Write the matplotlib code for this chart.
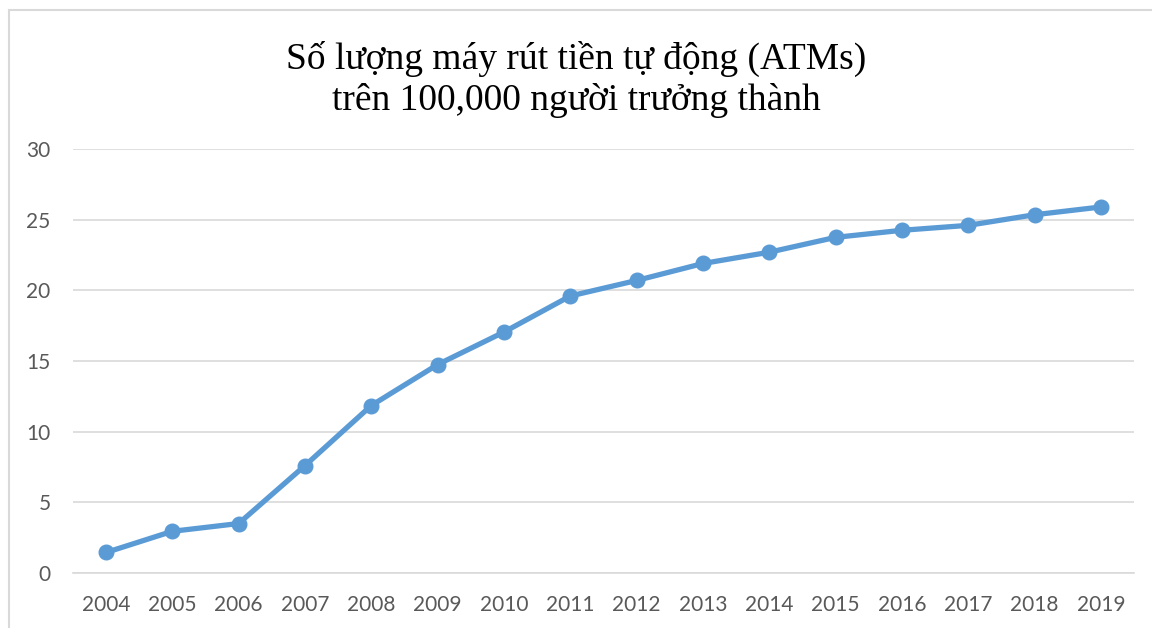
import matplotlib.pyplot as plt
from matplotlib.patches import Rectangle

# ----- Data -----
years = ['2004', '2005', '2006', '2007', '2008', '2009', '2010', '2011',
         '2012', '2013', '2014', '2015', '2016', '2017', '2018', '2019']
atms = [1.45, 2.95, 3.5, 7.6, 11.85, 14.75, 17.05, 19.6,
        20.7, 21.9, 22.7, 23.75, 24.25, 24.6, 25.35, 25.9]

title = "Số lượng máy rút tiền tự động (ATMs)\ntrên 100,000 người trưởng thành"

# ----- Figure -----
fig = plt.figure(figsize=(11.52, 6.28), dpi=100)
ax = fig.add_axes([0.0632, 0.0876, 0.9213, 0.6751])

x = range(len(years))
ax.plot(x, atms, color='#5B9BD5', linewidth=3.8, marker='o',
        markersize=10.5, solid_capstyle='round', zorder=3)

ax.set_xlim(-0.5, len(years) - 0.5)
ax.set_ylim(0, 30)
ax.set_yticks(range(0, 31, 5))
ax.set_xticks(list(x))
ax.set_xticklabels(years)

ax.grid(axis='y', color='#D9D9D9', linewidth=1.2)
ax.set_axisbelow(True)
for side in ['top', 'right', 'left']:
    ax.spines[side].set_visible(False)
ax.spines['bottom'].set_color('#D9D9D9')
ax.spines['bottom'].set_linewidth(1.2)
ax.tick_params(length=0, labelsize=15, labelcolor='#595959', pad=16)
ax.tick_params(axis='y', pad=16)
for lbl in ax.get_xticklabels() + ax.get_yticklabels():
    lbl.set_family(['Lato', 'DejaVu Sans'])

fig.text(0.5, 0.874, title, ha='center', va='center', fontsize=27,
         family=['Liberation Serif', 'DejaVu Serif'], linespacing=1.22)

# chart frame (only left/top edges visible in the crop)
fig.patches.append(Rectangle((9 / 1152, -0.1), 1.2, 1.1 - 10 / 628,
                             transform=fig.transFigure, fill=False,
                             edgecolor='#D9D9D9', linewidth=1.5))

fig.savefig('out.png', dpi=100)
